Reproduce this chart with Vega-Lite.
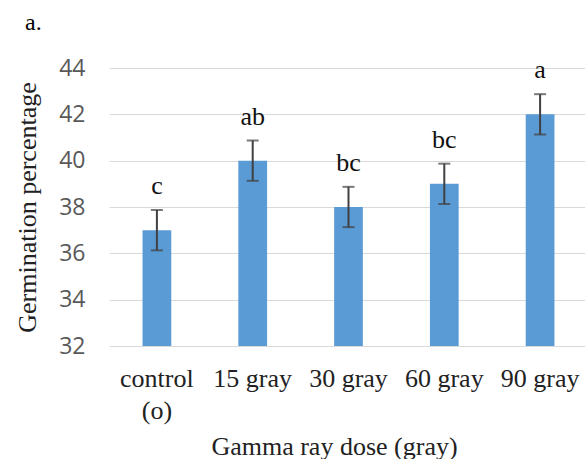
{
  "$schema": "https://vega.github.io/schema/vega-lite/v6.json",
  "width": 476,
  "height": 278,
  "autosize": {"type": "none"},
  "padding": {"left": 109, "top": 68, "right": 0, "bottom": 113},
  "background": "white",
  "config": {"view": {"stroke": null}},
  "title": {
    "text": "a.",
    "anchor": "start",
    "frame": "group",
    "font": "Liberation Serif",
    "fontSize": 24,
    "fontWeight": "normal",
    "color": "#000000",
    "dx": -84,
    "offset": 3,
    "baseline": "alphabetic"
  },
  "data": {
    "values": [
      {"dose": "control|(o)", "mean": 37, "err": 0.87, "letter": "c"},
      {"dose": "15 gray", "mean": 40, "err": 0.87, "letter": "ab"},
      {"dose": "30 gray", "mean": 38, "err": 0.87, "letter": "bc"},
      {"dose": "60 gray", "mean": 39, "err": 0.87, "letter": "bc"},
      {"dose": "90 gray", "mean": 42, "err": 0.87, "letter": "a"}
    ]
  },
  "encoding": {
    "x": {
      "field": "dose",
      "type": "nominal",
      "sort": null,
      "scale": {"range": [0, 479], "paddingInner": 0.7, "paddingOuter": 0.35},
      "axis": {
        "title": "Gamma ray dose (gray)",
        "labelAngle": 0,
        "domain": false,
        "ticks": false,
        "tickSize": 0,
        "labelFont": "Liberation Serif",
        "labelFontSize": 26,
        "labelColor": "#222222",
        "labelPadding": 40,
        "labelBaseline": "alphabetic",
        "labelLineHeight": 32,
        "labelExpr": "split(datum.label, '|')",
        "titleFont": "Liberation Serif",
        "titleFontSize": 26,
        "titleFontWeight": "normal",
        "titleColor": "#222222",
        "titleX": 225,
        "titleY": 108,
        "titleBaseline": "alphabetic",
        "titleAlign": "center"
      }
    }
  },
  "layer": [
    {
      "mark": {"type": "bar", "color": "#5B9BD5"},
      "encoding": {
        "y": {
          "field": "mean",
          "type": "quantitative",
          "scale": {"domain": [32, 44], "nice": false, "zero": false},
          "axis": {
            "title": "Germination percentage",
            "values": [32, 34, 36, 38, 40, 42, 44],
            "grid": true,
            "gridColor": "#D9D9D9",
            "gridWidth": 1,
            "domain": false,
            "ticks": false,
            "tickSize": 0,
            "labelFont": "Open Sans",
            "labelFontSize": 23,
            "labelColor": "#595959",
            "labelPadding": 24,
            "labelOverlap": false,
            "titleFont": "Liberation Serif",
            "titleFontSize": 26,
            "titleFontWeight": "normal",
            "titleColor": "#222222",
            "titleAngle": 270,
            "titleX": -95,
            "titleY": 139,
            "titleAlign": "center",
            "titleBaseline": "top"
          }
        },
        "y2": {"datum": 32}
      }
    },
    {
      "mark": {
        "type": "errorbar",
        "ticks": {"size": 12, "thickness": 2, "color": "#404040"},
        "rule": {"strokeWidth": 2, "color": "#404040"}
      },
      "encoding": {
        "y": {"field": "mean", "type": "quantitative", "title": "Germination percentage"},
        "yError": {"field": "err"}
      }
    },
    {
      "transform": [{"calculate": "datum.mean + datum.err", "as": "hi"}],
      "mark": {
        "type": "text",
        "font": "Liberation Serif",
        "fontSize": 26,
        "color": "#111111",
        "baseline": "alphabetic",
        "dy": -16
      },
      "encoding": {
        "y": {"field": "hi", "type": "quantitative", "title": "Germination percentage"},
        "text": {"field": "letter"}
      }
    }
  ]
}
